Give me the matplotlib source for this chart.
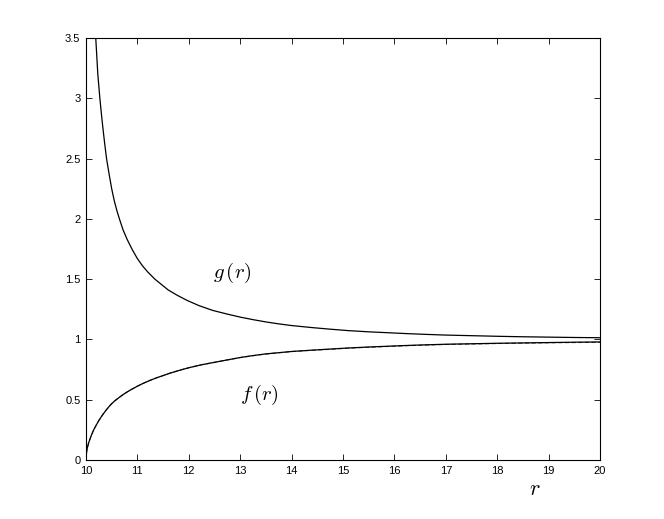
import matplotlib
matplotlib.use("Agg")
import matplotlib.pyplot as plt

# values
r_g = [10.14, 10.165, 10.19, 10.21, 10.23, 10.25, 10.27, 10.30, 10.33, 10.365,
       10.40, 10.45, 10.50, 10.55, 10.60, 10.65, 10.72, 10.80, 10.90, 11.00,
       11.10, 11.20, 11.34, 11.47, 11.60, 11.78, 11.96, 12.20, 12.47, 12.75,
       13.00, 13.25, 13.50, 13.75, 14.00, 14.40, 14.75, 15.10, 15.50, 15.90,
       16.25, 16.60, 17.00, 17.50, 18.00, 18.50, 19.00, 19.50, 20.00]
g_vals = [4.00, 3.75, 3.50, 3.35, 3.20, 3.10, 3.00, 2.87, 2.75, 2.62,
          2.50, 2.37, 2.25, 2.15, 2.07, 2.00, 1.91, 1.83, 1.745, 1.67,
          1.61, 1.56, 1.50, 1.455, 1.41, 1.365, 1.325, 1.28, 1.24, 1.21,
          1.185, 1.164, 1.145, 1.129, 1.115, 1.098, 1.085, 1.073, 1.063, 1.055,
          1.048, 1.042, 1.036, 1.031, 1.026, 1.022, 1.019, 1.016, 1.014]

r_f = [10.00, 10.01, 10.02, 10.035, 10.05, 10.075, 10.10, 10.15, 10.20, 10.25,
       10.30, 10.35, 10.40, 10.45, 10.50, 10.57, 10.65, 10.72, 10.80, 10.90,
       11.00, 11.12, 11.25, 11.37, 11.50, 11.62, 11.75, 11.87, 12.00, 12.25,
       12.50, 12.75, 13.00, 13.25, 13.50, 13.75, 14.00, 14.40, 14.75, 15.10,
       15.50, 15.90, 16.25, 16.60, 17.00, 17.50, 18.00, 18.50, 19.00, 19.50,
       20.00]
f_vals = [0.000, 0.060, 0.090, 0.115, 0.140, 0.170, 0.200, 0.250, 0.290, 0.327,
          0.360, 0.390, 0.418, 0.444, 0.467, 0.494, 0.520, 0.542, 0.564, 0.589,
          0.612, 0.637, 0.661, 0.681, 0.700, 0.718, 0.735, 0.750, 0.765, 0.790,
          0.810, 0.830, 0.850, 0.866, 0.880, 0.890, 0.900, 0.911, 0.920, 0.929,
          0.937, 0.944, 0.950, 0.955, 0.960, 0.964, 0.968, 0.971, 0.974, 0.977,
          0.979]
# dashed approximation lying almost on top of f(r)
f_dash = [0.000, 0.060, 0.090, 0.115, 0.140, 0.170, 0.200, 0.250, 0.290, 0.327,
          0.360, 0.390, 0.418, 0.444, 0.467, 0.494, 0.520, 0.542, 0.564, 0.589,
          0.612, 0.637, 0.661, 0.681, 0.700, 0.718, 0.735, 0.750, 0.765, 0.790,
          0.810, 0.830, 0.849, 0.865, 0.879, 0.889, 0.899, 0.910, 0.918, 0.927,
          0.935, 0.942, 0.948, 0.953, 0.958, 0.962, 0.966, 0.969, 0.972, 0.974,
          0.976]

x_ticks = list(range(10, 21))
y_ticks = [0, 0.5, 1, 1.5, 2, 2.5, 3, 3.5]
y_ticklabels = ["0", "0.5", "1", "1.5", "2", "2.5", "3", "3.5"]

plt.rcParams["mathtext.fontset"] = "cm"
plt.rcParams["font.family"] = ["Liberation Sans", "DejaVu Sans"]

fig = plt.figure(figsize=(6.64, 5.19), dpi=100)
ax = fig.add_axes([0.1295, 0.1137, 0.7741, 0.8131])

ax.plot(r_g, g_vals, color="black", lw=0.9)
ax.plot(r_f, f_vals, color="black", lw=0.9)
ax.plot(r_f, f_dash, color="black", lw=0.8, ls=(0, (4, 2)), alpha=0.7)

ax.set_xlim(10, 20)
ax.set_ylim(0, 3.5)
ax.set_xticks(x_ticks)
ax.set_xticklabels([str(t) for t in x_ticks])
ax.set_yticks(y_ticks)
ax.set_yticklabels(y_ticklabels)
ax.tick_params(direction="in", top=True, right=True, length=4, width=0.6,
               labelsize=8, pad=4)
for s in ax.spines.values():
    s.set_linewidth(0.8)

ax.text(12.85, 1.55, r"$g\,(r)$", fontsize=15, ha="center", va="center")
ax.text(13.37, 0.54, r"$f\,(r)$", fontsize=15, ha="center", va="center")
fig.text(0.806, 0.056, r"$r$", fontsize=16, ha="center", va="center")

fig.savefig("out.png", dpi=100)
